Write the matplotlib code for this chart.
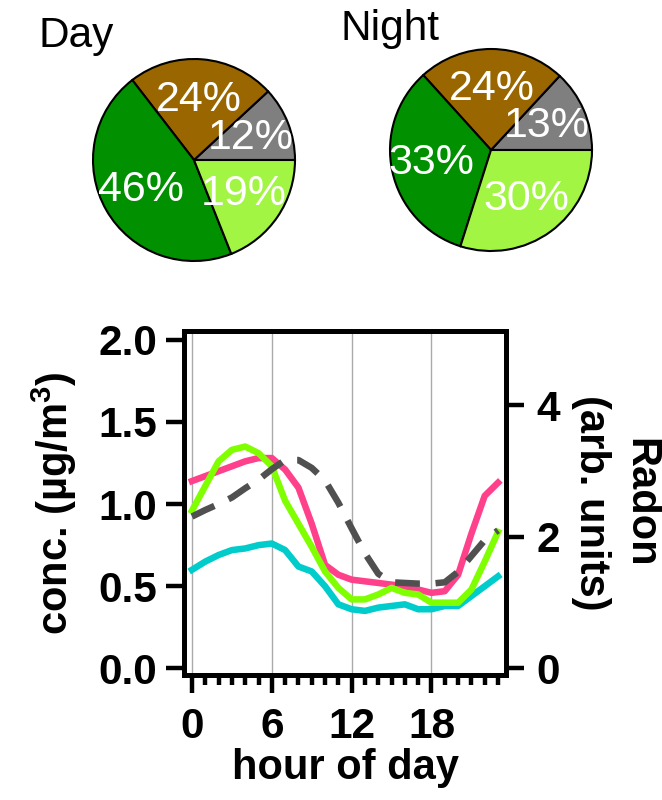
import matplotlib
matplotlib.use("Agg")
import matplotlib.pyplot as plt


plt.rcParams['font.family'] = ['Liberation Sans', 'DejaVu Sans']
plt.rcParams['mathtext.fontset'] = 'custom'
plt.rcParams['mathtext.rm'] = 'Liberation Sans:bold'
plt.rcParams['mathtext.bf'] = 'Liberation Sans:bold'
plt.rcParams['mathtext.it'] = 'Liberation Sans:bold'


# DATA
# Pie fractions (percent), order: gray, brown, dark green, light green
day_frac = [11.9, 23.6, 45.6, 19.0]
night_frac = [13.1, 23.6, 33.4, 29.9]
pie_titles = ["Day", "Night"]

# Diurnal cycles
hours = list(range(24))
pink = [1.14, 1.17, 1.20, 1.23, 1.26, 1.28, 1.28, 1.21, 1.10, 0.88, 0.63, 0.57,
        0.54, 0.53, 0.52, 0.51, 0.50, 0.48, 0.46, 0.47, 0.57, 0.82, 1.05, 1.13]
lime = [0.96, 1.11, 1.26, 1.33, 1.35, 1.31, 1.23, 1.02, 0.88, 0.74, 0.59, 0.49,
        0.42, 0.42, 0.45, 0.49, 0.46, 0.45, 0.40, 0.40, 0.40, 0.48, 0.65, 0.83]
cyan = [0.60, 0.65, 0.69, 0.72, 0.73, 0.75, 0.76, 0.72, 0.62, 0.59, 0.50, 0.39,
        0.36, 0.35, 0.37, 0.38, 0.39, 0.36, 0.36, 0.38, 0.38, 0.44, 0.50, 0.56]
radon = [2.31, 2.41, 2.50, 2.60, 2.74, 2.87, 3.03, 3.17, 3.17, 3.05, 2.86, 2.52,
         2.13, 1.75, 1.44, 1.31, 1.30, 1.29, 1.29, 1.31, 1.47, 1.71, 1.95, 2.10]

conc_ticks = [0.0, 0.5, 1.0, 1.5, 2.0]
radon_ticks = [0, 2, 4]
hour_ticks = [0, 6, 12, 18]

pie_colors = ['#7f7f7f', '#996600', '#009000', '#a3f544']

W, H = 662, 800
fig = plt.figure(figsize=(W / 100, H / 100), dpi=100)


# PIE CHARTS
def draw_pie(cx, cy, r, frac):
    pax = fig.add_axes([(cx - r) / W, (H - cy - r) / H, 2 * r / W, 2 * r / H])
    wedges, texts, autotexts = pax.pie(
        frac, colors=pie_colors, startangle=0, counterclock=True,
        autopct='%.0f%%', pctdistance=0.6,
        wedgeprops=dict(edgecolor='black', linewidth=1.5),
        textprops=dict(color='white', fontsize=31))
    for w in wedges:
        w.set_clip_on(False)
    pax.set_xlim(-1, 1)
    pax.set_ylim(-1, 1)
    return pax


draw_pie(194, 160, 101, day_frac)
draw_pie(491, 150, 101, night_frac)
fig.text(39 / W, 1 - 47 / H, pie_titles[0], fontsize=30.5, ha='left', va='baseline')
fig.text(340 / W, 1 - 40 / H, pie_titles[1], fontsize=30.5, ha='left', va='baseline')


# LINE CHART
ax = fig.add_axes([184 / W, 125 / H, 322 / W, 343.5 / H])
ax2 = ax.twinx()

ax.plot(hours, cyan, color='#00cccc', lw=4.7)
ax.plot(hours, pink, color='#ff408a', lw=4.7)
ax.plot(hours, lime, color='#80ff00', lw=4.7)
ax2.plot(hours, radon, color='#505050', lw=4.7, linestyle=(0, (3.8, 2.4)))

ax.set_xlim(-0.6, 23.6)
ax.set_ylim(-0.04, 2.05)
ax2.set_ylim(-0.1, 5.125)

ax.set_xticks(hour_ticks)
ax.set_xticks(hours, minor=True)
ax.set_yticks(conc_ticks)
ax.set_yticklabels(["%.1f" % t for t in conc_ticks])
ax2.set_yticks(radon_ticks)
ax.grid(axis='x', which='major', color='#aaaaaa', linewidth=1)

ax.tick_params(axis='x', which='major', length=13, width=3.2, pad=10, labelsize=30.5)
ax.tick_params(axis='x', which='minor', length=7, width=3.2)
ax.tick_params(axis='y', length=13, width=3.2, pad=6, labelsize=30.5)
ax2.tick_params(axis='y', length=13, width=3.2, pad=9, labelsize=30.5)

for a in (ax, ax2):
    for s in a.spines.values():
        s.set_linewidth(3.5)
    for lbl in a.get_xticklabels() + a.get_yticklabels():
        lbl.set_fontweight('bold')

ax.set_ylabel(r'conc. (µg/m$^{3}$)', fontsize=30, fontweight='bold', labelpad=14)
ax.set_xlabel('hour of day', fontsize=30, fontweight='bold', labelpad=1)
ax2.set_ylabel('Radon\n(arb. units)', fontsize=30, fontweight='bold',
               rotation=270, va='bottom', linespacing=1.3, labelpad=8)

fig.savefig("out.png", dpi=100)
